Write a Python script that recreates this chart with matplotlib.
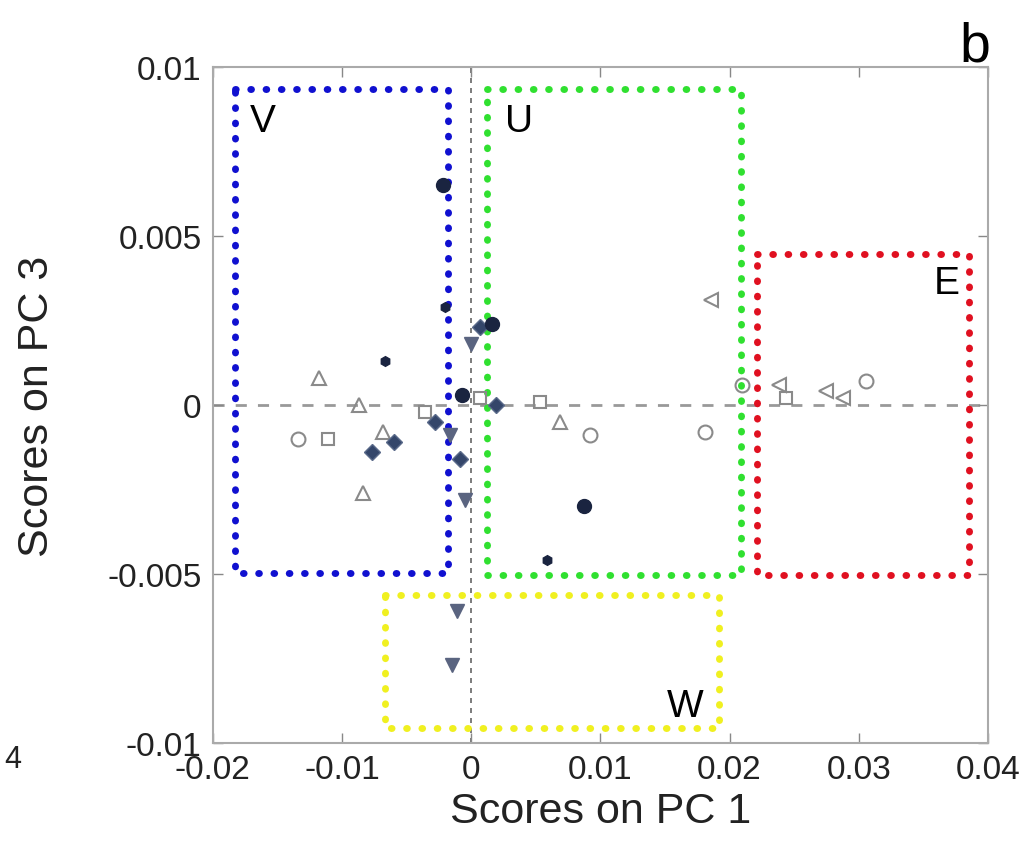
import matplotlib
matplotlib.use('Agg')
import matplotlib.pyplot as plt

# Scores (PC 1, PC 3) per marker group
open_tri_x = [-0.0118, -0.0087, -0.0068, -0.0084, 0.0069]
open_tri_y = [0.0008, 0.0000, -0.0008, -0.0026, -0.0005]

open_circ_x = [-0.0134, 0.0092, 0.0181, 0.0210, 0.0306]
open_circ_y = [-0.0010, -0.0009, -0.0008, 0.0006, 0.0007]

open_sq_x = [-0.0111, -0.0036, 0.0007, 0.0053, 0.0244]
open_sq_y = [-0.0010, -0.0002, 0.0002, 0.0001, 0.0002]

left_tri_x = [0.0186, 0.0238, 0.0275, 0.0288]
left_tri_y = [0.0031, 0.0006, 0.0004, 0.0002]

dark_circ_x = [-0.0022, 0.0016, -0.0007, 0.0087]
dark_circ_y = [0.0065, 0.0024, 0.0003, -0.0030]

dark_star_x = [-0.0067, 0.0059, -0.0020]
dark_star_y = [0.0013, -0.0046, 0.0029]

diamond_x = [-0.0077, -0.0060, -0.0028, -0.0009, 0.0019, 0.0007]
diamond_y = [-0.0014, -0.0011, -0.0005, -0.0016, 0.0000, 0.0023]

down_tri_x = [0.0000, -0.0016, -0.0005, -0.0011, -0.0015]
down_tri_y = [0.0018, -0.0009, -0.0028, -0.0061, -0.0077]

# Cluster regions: label, x0, x1, y0, y1
region_names = ['V', 'U', 'E', 'W']
region_x0 = [-0.0183, 0.0012, 0.0221, -0.0067]
region_x1 = [-0.0018, 0.0209, 0.0385, 0.0192]
region_y0 = [-0.00497, -0.00503, -0.00503, -0.00955]
region_y1 = [0.00935, 0.00935, 0.00446, -0.00563]
region_colors = ['#1010d0', '#30e030', '#e01020', '#f0f020']
label_x = [-0.0161, 0.0037, 0.0368, 0.0166]
label_y = [0.0084, 0.0084, 0.0036, -0.0089]


def main():
    plt.rcParams['font.family'] = ['Liberation Sans', 'DejaVu Sans']
    fig = plt.figure(figsize=(10.28, 8.62), dpi=100)
    ax = fig.add_axes([0.207, 0.137, 0.754, 0.784])

    # zero lines
    ax.axhline(0, color='#999999', lw=2, dashes=(4, 4), zorder=1)
    ax.axvline(0, color='#666666', lw=1.2, dashes=(3, 3), zorder=1)

    # dotted cluster boxes
    for i in range(len(region_names)):
        xs = [region_x0[i], region_x1[i], region_x1[i], region_x0[i], region_x0[i]]
        ys = [region_y1[i], region_y1[i], region_y0[i], region_y0[i], region_y1[i]]
        ax.plot(xs, ys, color=region_colors[i], lw=5, linestyle=(0, (0.1, 2.1)),
                dash_capstyle='round', zorder=2)
        ax.text(label_x[i], label_y[i], region_names[i], fontsize=28,
                ha='center', va='center')

    grey = '#8a8a8a'
    ax.plot(open_tri_x, open_tri_y, '^', ms=10, mfc='none', mec=grey, mew=1.5, zorder=3)
    ax.plot(open_circ_x, open_circ_y, 'o', ms=10, mfc='none', mec=grey, mew=1.5, zorder=3)
    ax.plot(open_sq_x, open_sq_y, 's', ms=9, mfc='none', mec=grey, mew=1.5, zorder=3)
    ax.plot(left_tri_x, left_tri_y, '<', ms=10, mfc='none', mec=grey, mew=1.5, zorder=3)
    ax.plot(diamond_x, diamond_y, 'D', ms=8, mfc='#34466a', mec='#5a6a8a', mew=1, zorder=4)
    ax.plot(down_tri_x, down_tri_y, 'v', ms=10, mfc='#5a6480', mec='#5a6480', zorder=4)
    ax.plot(dark_circ_x, dark_circ_y, 'o', ms=10, mfc='#1a2440', mec='#1a2440', zorder=4)
    ax.plot(dark_star_x, dark_star_y, 'h', ms=7, mfc='#1a2440', mec='#1a2440', zorder=4)

    ax.set_xlim(-0.02, 0.04)
    ax.set_ylim(-0.01, 0.01)
    ax.set_xticks([-0.02, -0.01, 0, 0.01, 0.02, 0.03, 0.04])
    ax.set_xticklabels(['-0.02', '-0.01', '0', '0.01', '0.02', '0.03', '0.04'])
    ax.set_yticks([-0.01, -0.005, 0, 0.005, 0.01])
    ax.set_yticklabels(['-0.01', '-0.005', '0', '0.005', '0.01'])
    ax.tick_params(direction='in', top=True, right=True, length=7, width=1,
                   color='#888888', labelsize=24, labelcolor='#222222', pad=8)
    for s in ax.spines.values():
        s.set_color('#aaaaaa')
        s.set_linewidth(1.5)
    ax.set_xlabel('Scores on PC 1', fontsize=31, color='#222222', labelpad=4)
    ax.set_ylabel('Scores on PC 3', fontsize=31, color='#222222', labelpad=36)

    fig.text(0.948, 0.945, 'b', fontsize=40, ha='center', va='center')
    fig.text(0.004, 0.118, '4', fontsize=22, color='#222222', ha='left', va='center')

    fig.savefig('out.png', dpi=100)


if __name__ == "__main__":
    main()
